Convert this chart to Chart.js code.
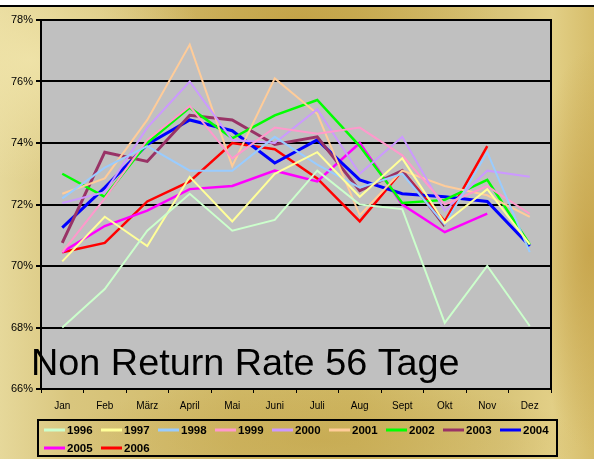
<!DOCTYPE html>
<html>
<head>
<meta charset="utf-8">
<script src="https://cdn.jsdelivr.net/npm/chart.js@4.4.1/dist/chart.umd.min.js"></script>
<style>
  html, body { margin: 0; padding: 0; background: #fff; }
  #wrap {
    position: relative; width: 594px; height: 459px; overflow: hidden;
    background:
      radial-gradient(ellipse 180px 120px at 30px 60px, rgba(240,228,170,0.9), rgba(240,228,170,0) 100%),
      radial-gradient(ellipse 200px 80px at 300px 20px, rgba(190,155,60,0.7), rgba(190,155,60,0) 100%),
      radial-gradient(ellipse 60px 200px at 590px 250px, rgba(196,160,70,0.8), rgba(196,160,70,0) 100%),
      radial-gradient(ellipse 260px 60px at 320px 440px, rgba(195,165,75,0.6), rgba(195,165,75,0) 100%),
      linear-gradient(90deg, #e6d89a 0%, #d9c67e 12%, #d0b866 40%, #cfb763 60%, #d9c57a 85%, #e2cf86 93%, #d6bd6a 100%);
  }
  #topbar { position: absolute; left: 0; top: 0; width: 594px; height: 5px; background: #fff; }
  #topline { position: absolute; left: 0; top: 5px; width: 594px; height: 2px; background: #000; }
  canvas { position: absolute; left: 0; top: 0; }
</style>
</head>
<body>
<div id="wrap">
  <div id="topbar"></div>
  <div id="topline"></div>
  <canvas id="c" width="594" height="459"></canvas>
</div>
<script>
const months = ['Jan','Feb','März','April','Mai','Juni','Juli','Aug','Sept','Okt','Nov','Dez'];
const yTicks = [66, 68, 70, 72, 74, 76, 78];
const chartTitle = 'Non Return Rate 56 Tage';

const years = ['1996','1997','1998','1999','2000','2001','2002','2003','2004','2005','2006'];
const colors = ['#ccffcc','#ffff99','#99ccff','#ff99cc','#cc99ff','#ffcc99','#00ff00','#993366','#0000ff','#ff00ff','#ff0000'];
const widths = [2, 2, 2, 2, 2, 2, 2.5, 3, 3, 2.5, 2.5];

const v1996 = [68.0, 69.25, 71.15, 72.35, 71.15, 71.5, 73.1, 72.0, 71.85, 68.15, 70.0, 68.05];
const v1997 = [70.15, 71.6, 70.65, 72.9, 71.45, 73.0, 73.7, 72.25, 73.5, 71.4, 72.5, 70.7];
const v1998 = [72.2, 73.2, 73.9, 73.1, 73.1, 74.2, 73.3, 72.55, 73.0, 71.35, 73.7, 70.45];
const v1999 = [70.45, 72.2, 74.1, 75.2, 73.5, 74.5, 74.3, 74.5, 73.6, 72.0, 72.6, 71.7];
const v2000 = [72.05, 72.4, 74.5, 76.0, 74.1, 74.0, 75.1, 73.0, 74.2, 71.8, 73.1, 72.9];
const v2001 = [72.35, 72.85, 74.75, 77.2, 73.25, 76.1, 74.95, 71.65, 73.1, 72.6, 72.3, 71.6];
const v2002 = [73.0, 72.25, 74.0, 75.15, 74.15, 74.9, 75.4, 73.9, 72.05, 72.15, 72.8, 70.7];
const v2003 = [70.75, 73.7, 73.4, 74.9, 74.75, 73.95, 74.2, 72.45, 73.1, 71.3, null, null];
const v2004 = [71.25, 72.55, 73.95, 74.75, 74.4, 73.35, 74.1, 72.8, 72.35, 72.25, 72.1, 70.65];
const v2005 = [70.45, 71.3, 71.8, 72.5, 72.6, 73.1, 72.75, 74.0, 72.0, 71.1, 71.7, null];
const v2006 = [70.45, 70.75, 72.1, 72.75, 74.0, 73.8, 72.85, 71.45, 73.1, 71.45, 73.9, null];

const seriesValues = [v1996, v1997, v1998, v1999, v2000, v2001, v2002, v2003, v2004, v2005, v2006];

const datasets = years.map((y, i) => ({
  label: y,
  data: seriesValues[i],
  borderColor: colors[i],
  backgroundColor: colors[i],
  borderWidth: widths[i],
  pointRadius: 0,
  tension: 0,
  spanGaps: false
}));

const FONT = '"Liberation Sans", Arial, sans-serif';

const plotDecor = {
  id: 'plotDecor',
  beforeDraw(chart) {
    const {ctx, chartArea: a} = chart;
    ctx.save();
    ctx.fillStyle = '#c0c0c0';
    ctx.fillRect(a.left, a.top, a.right - a.left, a.bottom - a.top);
    ctx.restore();
  },
  afterDraw(chart) {
    const {ctx, chartArea: a} = chart;
    ctx.save();
    ctx.strokeStyle = '#000';
    ctx.lineWidth = 2;
    ctx.strokeRect(a.left, a.top, a.right - a.left, a.bottom - a.top);
    ctx.fillStyle = '#000';
    ctx.font = '37.8px ' + FONT;
    ctx.textBaseline = 'alphabetic';
    ctx.textAlign = 'left';
    ctx.fillText(chartTitle, 31, 375);
    const lx = 38, ly = 420, lw = 519, lh = 36;
    ctx.lineWidth = 2;
    ctx.strokeRect(lx, ly, lw, lh);
    ctx.font = 'bold 11.5px ' + FONT;
    ctx.textBaseline = 'middle';
    chart.data.datasets.forEach((ds, i) => {
      const row = i < 9 ? 0 : 1;
      const col = i < 9 ? i : i - 9;
      const x = 44 + col * 57;
      const y = row === 0 ? 430 : 448;
      ctx.strokeStyle = ds.borderColor;
      ctx.lineWidth = 3;
      ctx.beginPath();
      ctx.moveTo(x, y);
      ctx.lineTo(x + 21, y);
      ctx.stroke();
      ctx.fillStyle = '#000';
      ctx.fillText(ds.label, x + 23, y + 1);
    });
    ctx.restore();
  }
};

new Chart(document.getElementById('c'), {
  type: 'line',
  data: { labels: months, datasets },
  options: {
    responsive: false,
    animation: false,
    layout: { padding: { top: 20, right: 43, bottom: 40, left: 0 } },
    plugins: { legend: { display: false }, title: { display: false }, tooltip: { enabled: false } },
    scales: {
      x: {
        type: 'category',
        offset: true,
        afterFit: s => { s.height = 30; },
        grid: { offset: true, drawOnChartArea: false, drawTicks: true, tickLength: 4, color: '#000', lineWidth: 1 },
        border: { display: false },
        ticks: { color: '#000', font: { family: FONT, size: 10 }, padding: 7, maxRotation: 0, autoSkip: false }
      },
      y: {
        min: 66, max: 78,
        afterFit: s => { s.width = 41; },
        afterBuildTicks: s => { s.ticks = yTicks.map(v => ({ value: v })); },
        grid: { color: '#000', lineWidth: 2, drawTicks: true, tickLength: 5 },
        border: { display: false },
        ticks: { color: '#000', font: { family: FONT, size: 11 }, padding: 3, callback: v => v + '%' }
      }
    }
  },
  plugins: [plotDecor]
});
</script>
</body>
</html>
